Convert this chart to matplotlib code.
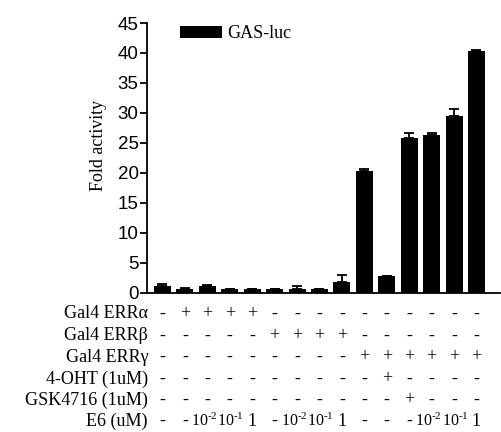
import numpy as np
import matplotlib.pyplot as plt
from matplotlib import transforms

plt.rcParams['font.family'] = ['Liberation Serif', 'DejaVu Serif']
plt.rcParams['mathtext.fontset'] = 'custom'
plt.rcParams['mathtext.rm'] = 'Liberation Serif'
plt.rcParams['mathtext.it'] = 'Liberation Serif:italic'

# data
fold = [1.1, 0.7, 1.2, 0.6, 0.55, 0.55, 0.6, 0.55, 1.85, 20.3, 2.8, 25.8, 26.3, 29.5, 40.3]
err = [0.35, 0.05, 0.05, 0.05, 0.0, 0.0, 0.5, 0.0, 1.1, 0.35, 0.0, 0.9, 0.4, 1.1, 0.2]

row_labels = ['Gal4 ERR\u03b1', 'Gal4 ERR\u03b2', 'Gal4 ERR\u03b3',
              '4-OHT (1uM)', 'GSK4716 (1uM)', 'E6 (uM)']
erra = ['-', '+', '+', '+', '+', '-', '-', '-', '-', '-', '-', '-', '-', '-', '-']
errb = ['-', '-', '-', '-', '-', '+', '+', '+', '+', '-', '-', '-', '-', '-', '-']
errg = ['-', '-', '-', '-', '-', '-', '-', '-', '-', '+', '+', '+', '+', '+', '+']
oht = ['-', '-', '-', '-', '-', '-', '-', '-', '-', '-', '+', '-', '-', '-', '-']
gsk = ['-', '-', '-', '-', '-', '-', '-', '-', '-', '-', '-', '+', '-', '-', '-']
e6 = ['-', '-', r'10$^{\text{-2}}$', r'10$^{\text{-1}}$', '1', '-',
      r'10$^{\text{-2}}$', r'10$^{\text{-1}}$', '1',
      '-', '-', '-', r'10$^{\text{-2}}$', r'10$^{\text{-1}}$', '1']
rows = [erra, errb, errg, oht, gsk, e6]

W, H = 501, 432
fig = plt.figure(figsize=(W / 100, H / 100), dpi=100)
ax = fig.add_axes([147 / W, 1 - 292.7 / H, (500 - 147) / W, (292.7 - 23) / H])

x = np.arange(len(fold))
ax.bar(x, fold, width=0.76, color='black', label='GAS-luc', zorder=2)
ax.errorbar(x, fold, yerr=[np.zeros(len(err)), err], fmt='none', ecolor='black',
            elinewidth=1.3, capsize=3.5, capthick=1.3, zorder=1)

ax.set_xlim(-0.69, 15.05)
ax.set_ylim(0, 45)
ax.set_yticks(np.arange(0, 46, 5))
ax.set_xticks([])
for s in ['top', 'right']:
    ax.spines[s].set_visible(False)
for s in ['left', 'bottom']:
    ax.spines[s].set_linewidth(1.3)
ax.tick_params(axis='y', length=5, width=1.3, pad=1, labelsize=13.5)
for lab in ax.get_yticklabels():
    lab.set_family(['Liberation Sans', 'DejaVu Sans'])

fig.text(98.5 / W, 1 - 145 / H, 'Fold activity', rotation=90, fontsize=13,
         ha='center', va='center')

ax.legend(loc='upper left', bbox_to_anchor=(180 / W, 1 - 25 / H),
          bbox_transform=fig.transFigure, frameon=False, fontsize=13,
          handlelength=2.3, handleheight=0.65, handletextpad=0.3, borderpad=0,
          borderaxespad=0)

trans = transforms.blended_transform_factory(ax.transData, fig.transFigure)
row_y = [314, 336, 357, 379, 400, 421]
for lab, vals, yp in zip(row_labels, rows, row_y):
    fig.text(148 / W, 1 - yp / H, lab, fontsize=13, ha='right', va='center')
    for xi, v in zip(x, vals):
        fs, dx = 13, 0.0
        if v.startswith('10'):
            fs = 11.5
            dx = -0.14 if v.endswith('2}}$') else 0.04
        ax.text(xi + dx, 1 - yp / H, v, transform=trans, fontsize=fs,
                ha='center', va='center', clip_on=False)

fig.savefig('out.png', dpi=100)
